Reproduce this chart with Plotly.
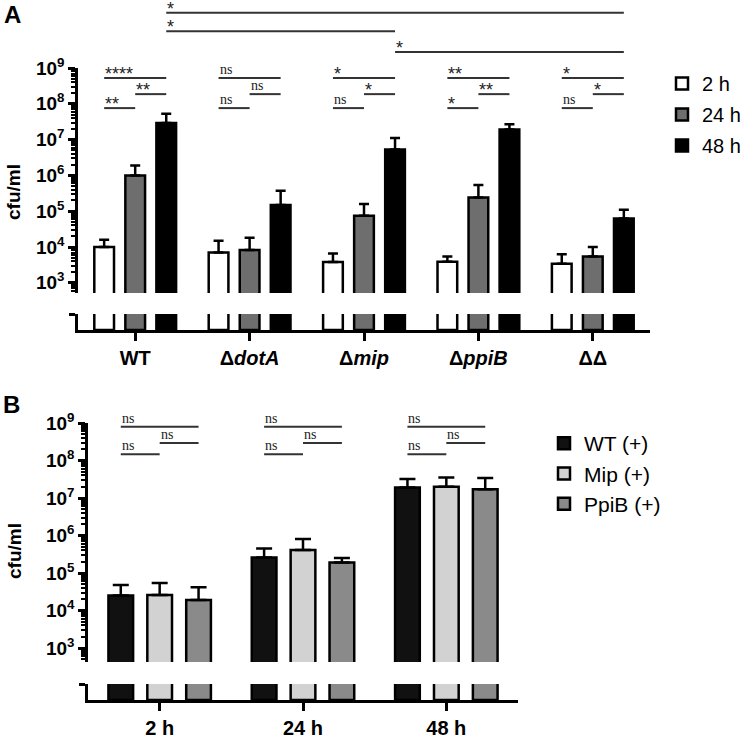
import plotly.graph_objects as go

W, H = 750, 735
SANS = "Liberation Sans, Arial, sans-serif"
SERIF = "Liberation Serif, Times New Roman, serif"

# ---------------- Panel A data ----------------
strains_A = ["WT", "ΔdotA", "Δmip", "ΔppiB", "ΔΔ"]
strain_labels_A = ["WT", "Δ<i>dotA</i>", "Δ<i>mip</i>", "Δ<i>ppiB</i>", "ΔΔ"]
series_A = ["2 h", "24 h", "48 h"]
cfu_2h = [1.0e4, 7.0e3, 3.8e3, 3.9e3, 3.4e3]
err_2h = [6.0e3, 8.0e3, 2.8e3, 1.5e3, 2.9e3]
cfu_24h = [1.0e6, 8.3e3, 7.5e4, 2.4e5, 5.4e3]
err_24h = [9.0e5, 9.7e3, 8.5e4, 3.0e5, 4.6e3]
cfu_48h = [2.9e7, 1.5e5, 5.3e6, 1.9e7, 6.3e4]
err_48h = [2.4e7, 2.2e5, 5.7e6, 8.0e6, 4.7e4]
colors_A = ["#ffffff", "#6e6e6e", "#000000"]

# within-group comparisons: (bar i, bar j, log10 height)
pairs_within = [(0, 2, 8.72), (1, 2, 8.27), (0, 1, 7.88)]
sig_within_A = [["****", "**", "**"],
                ["ns", "ns", "ns"],
                ["*", "*", "ns"],
                ["**", "**", "*"],
                ["*", "*", "ns"]]
# across-strain comparisons of 48 h bars: (strain a, strain b, label, log10 height)
sig_across_A = [(0, 4, "*", 10.54), (0, 2, "*", 10.03), (2, 4, "*", 9.45)]

# ---------------- Panel B data ----------------
times_B = ["2 h", "24 h", "48 h"]
series_B = ["WT (+)", "Mip (+)", "PpiB (+)"]
cfu_wt = [2.5e4, 2.6e5, 1.9e7]
err_wt = [2.3e4, 1.9e5, 1.3e7]
cfu_mip = [2.6e4, 4.1e5, 2.0e7]
err_mip = [2.8e4, 4.0e5, 1.5e7]
cfu_ppib = [1.9e4, 1.9e5, 1.7e7]
err_ppib = [2.3e4, 6.0e4, 1.7e7]
colors_B = ["#111111", "#d2d2d2", "#8a8a8a"]
pairs_B = [(0, 2, 8.90), (1, 2, 8.47), (0, 1, 8.17)]
sig_B = [["ns", "ns", "ns"], ["ns", "ns", "ns"], ["ns", "ns", "ns"]]

decades = [3, 4, 5, 6, 7, 8, 9]

# ---------------- geometry helpers ----------------
BARGAP = 0.186
GROUPGAP = 0.365
slot = (1 - BARGAP) / 3


def py(p):
    return 1 - p / H


def px(p):
    return p / W


def bar_x(i, j):
    return i + (j - 1) * slot


fig = go.Figure()
line_style = dict(color="black", width=2.5)

# Panel A bars (upper log part + lower broken part)
for k, (name, vals, errs) in enumerate(zip(series_A, [cfu_2h, cfu_24h, cfu_48h],
                                              [err_2h, err_24h, err_48h])):
    xs = list(range(len(strains_A)))
    fig.add_bar(x=xs, y=vals, name=name, xaxis="x", yaxis="y2",
                marker=dict(color=colors_A[k], line=line_style),
                error_y=dict(type="data", array=errs, arrayminus=[0] * len(errs),
                             symmetric=False, color="black", thickness=2.5, width=5),
                legend="legend", legendgroup="A" + name, showlegend=True, hoverinfo="skip")
    fig.add_bar(x=xs, y=vals, name=name, xaxis="x", yaxis="y",
                marker=dict(color=colors_A[k], line=line_style),
                showlegend=False, hoverinfo="skip")

# Panel B bars
for k, (name, vals, errs) in enumerate(zip(series_B, [cfu_wt, cfu_mip, cfu_ppib],
                                              [err_wt, err_mip, err_ppib])):
    xs = list(range(len(times_B)))
    fig.add_bar(x=xs, y=vals, name=name, xaxis="x2", yaxis="y4",
                marker=dict(color=colors_B[k], line=line_style),
                error_y=dict(type="data", array=errs, arrayminus=[0] * len(errs),
                             symmetric=False, color="black", thickness=2.5, width=8),
                legend="legend2", legendgroup="B" + name, showlegend=True, hoverinfo="skip")
    fig.add_bar(x=xs, y=vals, name=name, xaxis="x2", yaxis="y3",
                marker=dict(color=colors_B[k], line=line_style),
                showlegend=False, hoverinfo="skip")

annotations = []


def sig_label(x, lvl, text, xref, yref):
    star = text != "ns"
    annotations.append(dict(
        x=x, y=lvl, xref=xref, yref=yref, text=text, showarrow=False,
        xanchor="left", yanchor="bottom", xshift=-1,
        yshift=-8 if star else -1,
        font=dict(family=SANS if star else SERIF, size=18 if star else 14, color="#222")))


# Panel A brackets
bx, by = [], []
for i in range(len(strains_A)):
    for (a, b, lvl), txt in zip(pairs_within, sig_within_A[i]):
        bx += [bar_x(i, a), bar_x(i, b), None]
        by += [10 ** lvl, 10 ** lvl, None]
        sig_label(bar_x(i, a), lvl, txt, "x", "y5")
for a, b, txt, lvl in sig_across_A:
    bx += [bar_x(a, 2), bar_x(b, 2), None]
    by += [10 ** lvl, 10 ** lvl, None]
    sig_label(bar_x(a, 2), lvl, txt, "x", "y5")
fig.add_scatter(x=bx, y=by, mode="lines", xaxis="x", yaxis="y5",
                line=dict(color="#333", width=2), showlegend=False, hoverinfo="skip")

# Panel B brackets
bx, by = [], []
for i in range(len(times_B)):
    for (a, b, lvl), txt in zip(pairs_B, sig_B[i]):
        bx += [bar_x(i, a), bar_x(i, b), None]
        by += [10 ** lvl, 10 ** lvl, None]
        sig_label(bar_x(i, a), lvl, txt, "x2", "y6")
fig.add_scatter(x=bx, y=by, mode="lines", xaxis="x2", yaxis="y6",
                line=dict(color="#333", width=2), showlegend=False, hoverinfo="skip")


# panel letters & axis titles
def paper_text(x, y, text, size, angle=0):
    annotations.append(dict(x=px(x), y=py(y), xref="paper", yref="paper", text=text,
                            showarrow=False, xanchor="center", yanchor="middle",
                            textangle=angle, font=dict(family=SANS, size=size, color="black")))


paper_text(12, 14, "<b>A</b>", 24)
paper_text(11, 405, "<b>B</b>", 24)
paper_text(13, 192, "<b>cfu/ml</b>", 19, -90)
paper_text(14, 551, "<b>cfu/ml</b>", 19, -90)

tickfont = dict(family=SANS, size=19, color="black")
dec_text = ["<b>10<sup>%d</sup></b>" % d for d in decades]
dec_vals = [10 ** d for d in decades]
minor_vals = [m * 10 ** d for d in [2] + decades[:-1] for m in range(2, 10)]


def log_axis(domain, lo, anchor):
    return dict(domain=domain, type="log", range=[lo, 9], anchor=anchor, automargin=False,
                showline=True, linecolor="black", linewidth=2.5,
                ticks="outside", ticklen=7, tickwidth=2.5, tickcolor="black",
                tickmode="array", tickvals=dec_vals, ticktext=dec_text, tickfont=tickfont,
                minor=dict(tickmode="array", tickvals=minor_vals, ticks="outside",
                           ticklen=4, tickwidth=1.5, tickcolor="black", showgrid=False),
                showgrid=False, zeroline=False, fixedrange=True)


def low_axis(domain, anchor):
    return dict(domain=domain, range=[0, 1], anchor=anchor, showline=True, automargin=False,
                linecolor="black", linewidth=2.5, ticks="outside", ticklen=6,
                tickwidth=2.5, tickcolor="black", tickmode="array", tickvals=[1],
                showticklabels=False, showgrid=False, zeroline=False, fixedrange=True)


def cat_axis(domain, n, labels, anchor):
    return dict(domain=domain, range=[-0.5, n - 0.5], anchor=anchor, showline=True,
                automargin=False,
                linecolor="black", linewidth=2.5, ticks="outside", ticklen=8,
                tickwidth=2.5, tickcolor="black", tickmode="array",
                tickvals=list(range(n)), ticktext=["<b>%s</b>" % t for t in labels],
                tickfont=dict(family=SANS, size=20, color="black"),
                showgrid=False, zeroline=False, fixedrange=True)


A_dec = 35.8
B_dec = 37.5
A_lo = 9 - (293 - 68) / A_dec
B_lo = 9 - (662 - 423) / B_dec
A_top_px = 0      # top of the significance area (pixels)
B_top_px = 380

fig.update_layout(
    template="none",
    width=W, height=H, margin=dict(l=0, r=0, t=0, b=0, pad=0, autoexpand=False),
    paper_bgcolor="white", plot_bgcolor="rgba(0,0,0,0)",
    barmode="group", bargap=BARGAP, bargroupgap=GROUPGAP,
    xaxis=cat_axis([px(78), px(650)], len(strains_A), strain_labels_A, "y"),
    yaxis=low_axis([py(330), py(314)], "x"),
    yaxis2=log_axis([py(293), py(68)], A_lo, "x"),
    yaxis5=dict(domain=[py(293), py(A_top_px)], type="log",
                range=[A_lo, A_lo + (293 - A_top_px) / A_dec],
                anchor="x", visible=False, fixedrange=True, automargin=False),
    xaxis2=cat_axis([px(88), px(518)], len(times_B), times_B, "y3"),
    yaxis3=low_axis([py(700), py(684)], "x2"),
    yaxis4=log_axis([py(662), py(423)], B_lo, "x2"),
    yaxis6=dict(domain=[py(662), py(B_top_px)], type="log",
                range=[B_lo, B_lo + (662 - B_top_px) / B_dec],
                anchor="x2", visible=False, fixedrange=True, automargin=False),
    legend=dict(x=px(662), y=py(64), xanchor="left", yanchor="top",
                font=dict(family=SANS, size=20, color="black"),
                bgcolor="rgba(0,0,0,0)", tracegroupgap=2, itemclick=False),
    legend2=dict(x=px(544), y=py(423), xanchor="left", yanchor="top",
                 font=dict(family=SANS, size=21, color="black"),
                 bgcolor="rgba(0,0,0,0)", tracegroupgap=0, itemclick=False),
    annotations=annotations,
    showlegend=True,
)

# remove the browser's default 8 px body margin so the figure starts at the page corner
fig.write_html("out.html", config={"displayModeBar": False},
               post_script="document.body.style.margin='0px';")
